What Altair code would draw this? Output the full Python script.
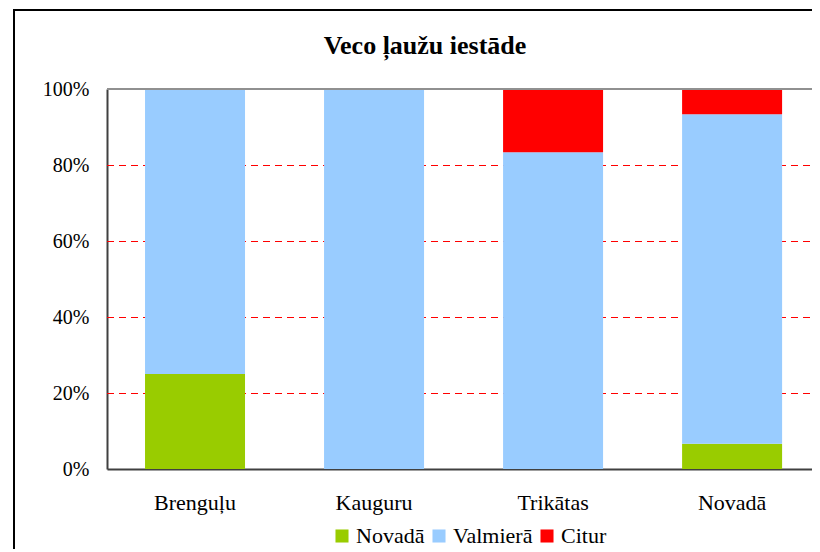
import altair as alt
import pandas as pd

categories = ["Brenguļu", "Kauguru", "Trikātas", "Novadā"]
series = ["Novadā", "Valmierā", "Citur"]
colors = ["#99CC00", "#99CCFF", "#FF0000"]
novada = [25.0, 0.0, 0.0, 6.67]
valmiera = [75.0, 100.0, 83.33, 86.66]
citur = [0.0, 0.0, 16.67, 6.67]
y_ticks = [0, 0.2, 0.4, 0.6, 0.8, 1.0]
grid_values = [0.2, 0.4, 0.6, 0.8]
title_text = "Veco ļaužu iestāde"

rows = []
for i, c in enumerate(categories):
    for j, (s, vals) in enumerate(zip(series, [novada, valmiera, citur])):
        rows.append({"kat": c, "serija": s, "v": vals[i], "ord": j})
df = pd.DataFrame(rows)

FONT = "Liberation Serif"
W, H = 705, 380

y_axis = alt.Axis(values=y_ticks, format=".0%", ticks=False, labelPadding=18,
                  domainColor="#404040", domainWidth=2, grid=False,
                  labelFont=FONT, labelFontSize=20, labelColor="black")
y_scale = alt.Scale(domain=[0, 1])

grid = alt.Chart(pd.DataFrame({"g": grid_values})).mark_rule(
    color="#FF0000", strokeWidth=1, strokeDash=[7, 5], yOffset=0.5
).encode(y=alt.Y("g:Q", title=None, scale=y_scale, axis=y_axis), x=alt.value(0), x2=alt.value(W))

bars = alt.Chart(df).mark_bar(size=100).encode(
    x=alt.X("kat:N", sort=categories, title=None,
            scale=alt.Scale(paddingInner=0.44, paddingOuter=0.189, align=0.56),
            axis=alt.Axis(labelAngle=0, ticks=False, labelPadding=23, grid=False,
                          domainColor="#404040", domainWidth=2,
                          labelFont=FONT, labelFontSize=22, labelColor="black")),
    y=alt.Y("v:Q", stack="normalize", title=None, scale=y_scale, axis=y_axis),
    color=alt.Color("serija:N", sort=series,
                    scale=alt.Scale(domain=series, range=colors),
                    legend=alt.Legend(title=None, orient="none", direction="horizontal",
                                      legendX=224, legendY=H + 56,
                                      symbolType="square", symbolSize=170, symbolStrokeWidth=0,
                                      labelFont=FONT, labelFontSize=22, labelColor="black",
                                      columnPadding=3, labelOffset=3)),
    order=alt.Order("ord:Q"),
)

top_line = alt.Chart(pd.DataFrame({"g": [1.0]})).mark_rule(color="#909090", strokeWidth=2).encode(
    y=alt.Y("g:Q", title=None, scale=y_scale, axis=y_axis), x=alt.value(0), x2=alt.value(W)
)

title = alt.Chart(pd.DataFrame({"t": [title_text]})).mark_text(
    font=FONT, fontSize=26, fontWeight="bold", color="black", baseline="middle", align="center"
).encode(text="t:N", x=alt.value(318), y=alt.value(-43))

border = alt.Chart(pd.DataFrame({"k": [0]})).mark_rule(color="black", strokeWidth=2, clip=False)
left_edge = border.encode(x=alt.value(-93), y=alt.value(-80), y2=alt.value(H + 90))
top_edge = border.encode(x=alt.value(-94), x2=alt.value(W), y=alt.value(-79))

chart = alt.layer(grid, bars, top_line, title, left_edge, top_edge).properties(
    width=W, height=H,
    autosize=alt.AutoSizeParams(type="none"),
    padding={"left": 99, "top": 81, "right": 0, "bottom": 80},
).configure_view(stroke=None)

chart.save("out.html", embed_options={"renderer": "svg", "actions": False})
